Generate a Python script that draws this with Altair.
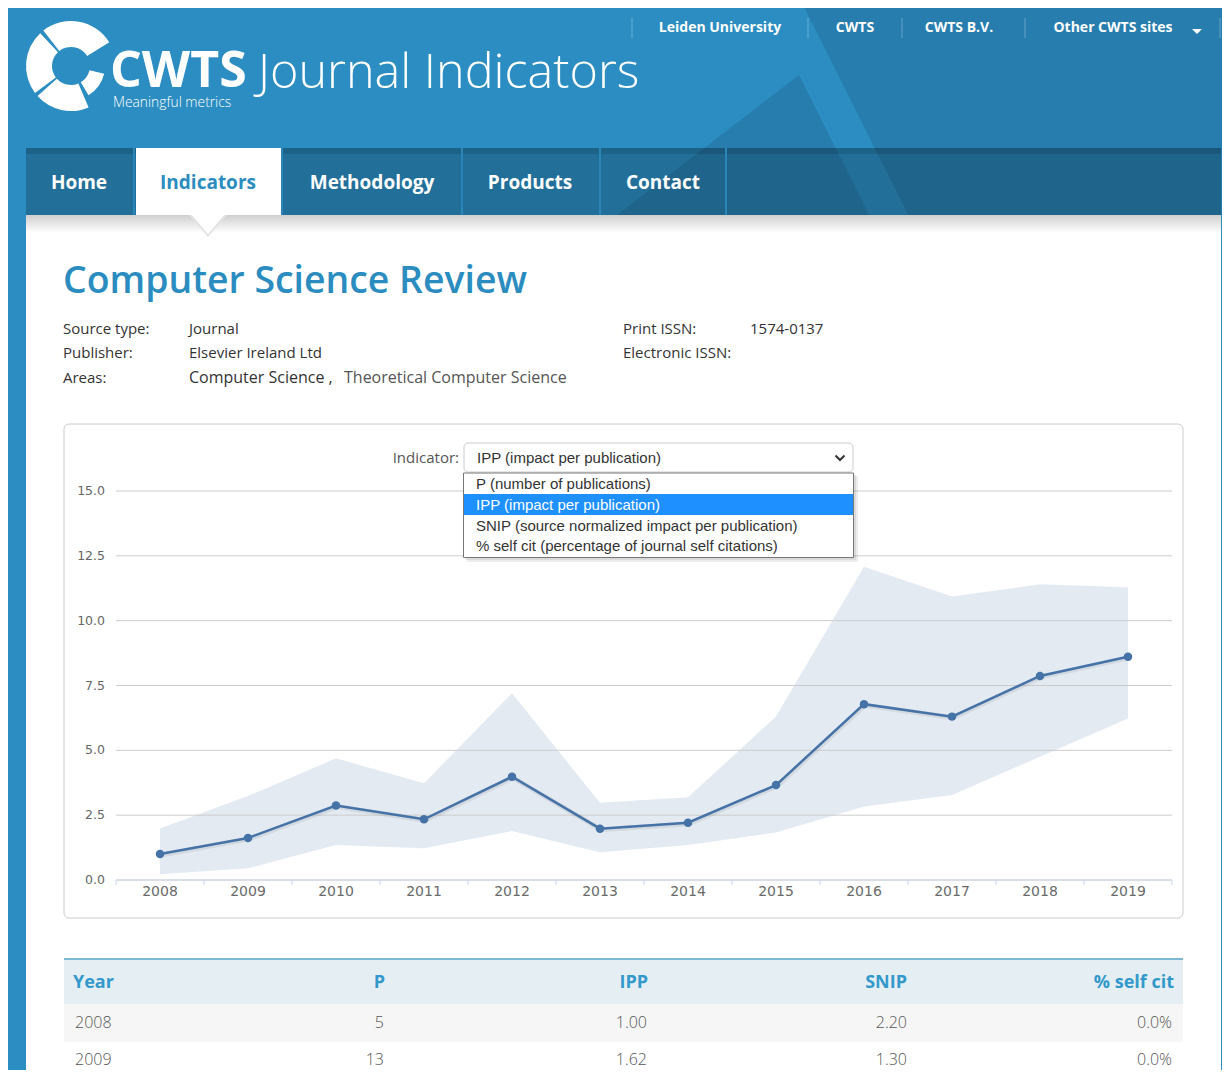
import altair as alt
import pandas as pd

# ------------------------------------------------------------------ data
years = [2008, 2009, 2010, 2011, 2012, 2013, 2014, 2015, 2016, 2017, 2018, 2019]
ipp = [1.00, 1.62, 2.87, 2.34, 3.98, 1.98, 2.21, 3.66, 6.78, 6.30, 7.87, 8.61]
ipp_low = [0.22, 0.45, 1.35, 1.22, 1.89, 1.07, 1.35, 1.83, 2.83, 3.28, 4.75, 6.23]
ipp_high = [1.99, 3.24, 4.69, 3.73, 7.20, 2.98, 3.19, 6.30, 12.08, 10.93, 11.40, 11.29]
y_ticks = [0, 2.5, 5, 7.5, 10, 12.5, 15]

top_links = ["Leiden University", "CWTS", "CWTS B.V.", "Other CWTS sites"]
nav_items = ["Home", "Indicators", "Methodology", "Products", "Contact"]
journal_title = "Computer Science Review"
info_labels = ["Source type:", "Publisher:", "Areas:"]
info_values = ["Journal", "Elsevier Ireland Ltd"]
areas = ["Computer Science ,", "Theoretical Computer Science"]
issn_labels = ["Print ISSN:", "Electronic ISSN:"]
issn_values = ["1574-0137"]
indicator_options = [
    "P (number of publications)",
    "IPP (impact per publication)",
    "SNIP (source normalized impact per publication)",
    "% self cit (percentage of journal self citations)",
]
selected_option = 1
table_columns = ["Year", "P", "IPP", "SNIP", "% self cit"]
table_year = [2008, 2009]
table_p = [5, 13]
table_ipp = [1.00, 1.62]
table_snip = [2.20, 1.30]
table_selfcit = [0.0, 0.0]

# ------------------------------------------------------------------ layout helpers
OX, OY = 8, 8
W, H = 1214, 1062
one = pd.DataFrame({"k": [0]})
layers = []


def X(v):
    return v - OX


def Y(v):
    return v - OY


def rect(x1, y1, x2, y2, **kw):
    layers.append(alt.Chart(one).mark_rect(**kw).encode(
        x=alt.value(X(x1)), x2=alt.value(X(x2)), y=alt.value(Y(y1)), y2=alt.value(Y(y2))))


def vline(x, y1, y2, color, width=1, opacity=1):
    layers.append(alt.Chart(one).mark_rule(color=color, strokeWidth=width, opacity=opacity).encode(
        x=alt.value(X(x)), y=alt.value(Y(y1)), y2=alt.value(Y(y2))))


def text(s, x, y, size=15, color="#333333", weight="normal", align="left",
         font="Open Sans", baseline="middle"):
    layers.append(alt.Chart(one).mark_text(
        text=s, fontSize=size, color=color, fontWeight=weight, align=align,
        baseline=baseline, font=font).encode(x=alt.value(X(x)), y=alt.value(Y(y))))


def poly(points, color, opacity=1):
    path = "M" + "L".join(f"{px - OX},{py - OY}" for px, py in points) + "Z"
    layers.append(alt.Chart(one).mark_point(
        shape=path, size=4, filled=True, fill=color, opacity=opacity, strokeWidth=0).encode(
        x=alt.value(0), y=alt.value(0)))


BLUE = "#2b8dc1"
DARK = "#277dae"
TITLE_BLUE = "#2b8cc0"
LINE_BLUE = "#4572a7"

# ------------------------------------------------------------------ header
rect(5, 7, 1225, 215, color=BLUE)
poly([(804, 7), (1225, 7), (1225, 215), (908, 215)], DARK)
poly([(799, 75), (617, 215), (869, 215)], DARK)

# logo rings
logo_segments = [(5.62, 7.30, 45, 19), (1.80, 2.60, 34, 19), (2.74, 3.98, 45, 19), (4.07, 5.53, 45, 19)]
for t1, t2, r1, r2 in logo_segments:
    layers.append(alt.Chart(one).mark_arc(theta=t1, theta2=t2, radius=r1, radius2=r2, color="white").encode(
        x=alt.value(X(71)), y=alt.value(Y(66))))
text("CWTS", 110, 87, size=50, color="white", weight="bold", baseline="alphabetic")
text("Journal Indicators", 258, 88, size=48.5, color="white", weight=300, baseline="alphabetic")
text("Meaningful metrics", 113, 103, size=13.8, color="white", weight=300)

# top links
link_x = [720, 855, 959, 1113]
for s, lx in zip(top_links, link_x):
    text(s, lx, 28, size=14, color="white", weight="bold", align="center")
for sx in [632, 808, 902, 1025, 1220]:
    vline(sx, 18, 38, "#ffffff", 1, 0.3)
poly([(1192, 29), (1202, 29), (1197, 34)], "white")

# navigation
rect(26, 148, 1221, 215, color="#000000", opacity=0.2)
rect(26, 148, 1221, 154, color="#000000", opacity=0.12)
rect(136, 148, 281, 215, color="white")
for sx in [134, 282, 462, 600, 726]:
    vline(sx, 148, 215, "#2a86b9", 2)
nav_x = [79, 208, 372, 530, 663]
for i, (s, nx) in enumerate(zip(nav_items, nav_x)):
    text(s, nx, 183, size=19, color=TITLE_BLUE if i == 1 else "white", weight="bold", align="center")

# side strips of the page background
rect(5, 215, 26, 1079, color=BLUE)
rect(1221, 215, 1225, 1079, color=BLUE)

# shadow under navigation + pointer
rect(26, 215, 1221, 233, fill=alt.Gradient(
    gradient="linear", x1=0, x2=0, y1=0, y2=1,
    stops=[alt.GradientStop(color="#cfcfcf", offset=0), alt.GradientStop(color="#ffffff", offset=1)]))
poly([(189, 215), (227, 215), (208, 237)], "#e4e4e4")
poly([(192, 215), (224, 215), (208, 234)], "white")

# ------------------------------------------------------------------ journal info
text(journal_title, 63, 293, size=37.4, color=TITLE_BLUE, weight=600, baseline="alphabetic")
for s, yy in zip(info_labels, [329, 353, 378]):
    text(s, 63, yy, size=15, color="#333333")
for s, yy in zip(info_values, [329, 353]):
    text(s, 189, yy, size=15, color="#333333")
text(areas[0], 189, 378, size=16, color="#333333")
text(areas[1], 344, 378, size=16, color="#555555")
for s, yy in zip(issn_labels, [329, 353]):
    text(s, 623, yy, size=15, color="#333333")
text(issn_values[0], 750, 329, size=15, color="#333333")

# ------------------------------------------------------------------ chart box
rect(64, 424, 1183, 918, fillOpacity=0, stroke="#cccccc", strokeWidth=1, cornerRadius=5)

# ------------------------------------------------------------------ chart data, scales and axes
df = pd.DataFrame({"year": years, "ipp": ipp, "low": ipp_low, "high": ipp_high})
ticks_df = pd.DataFrame({"t": y_ticks})
xscale = alt.Scale(type="band", domain=years, range=[X(116), X(1172)], paddingInner=0, paddingOuter=0)
yscale = alt.Scale(domain=[0, 15], range=[Y(880), Y(491)], nice=False, zero=False)

# band of the range
layers.append(alt.Chart(df).mark_area(color=LINE_BLUE, opacity=0.15).encode(
    x=alt.X("year:O", scale=xscale, axis=None, bandPosition=0.5),
    y=alt.Y("low:Q", scale=yscale, axis=None),
    y2="high:Q"))
# y grid lines and labels
layers.append(alt.Chart(ticks_df).mark_rule(color="#cccccc", strokeWidth=1).encode(
    y=alt.Y("t:Q", scale=yscale, axis=None),
    x=alt.value(X(116)), x2=alt.value(X(1172))))
layers.append(alt.Chart(ticks_df).mark_text(
    align="right", baseline="middle", font="DejaVu Sans", fontSize=12.5, color="#666666").encode(
    y=alt.Y("t:Q", scale=yscale, axis=None),
    x=alt.value(X(105)),
    text=alt.Text("t:Q", format=".1f")))
# x axis line, band-edge ticks and labels
layers.append(alt.Chart(one).mark_rule(color="#ccd6eb", strokeWidth=1).encode(
    y=alt.value(Y(880)), x=alt.value(X(116)), x2=alt.value(X(1172))))
layers.append(alt.Chart(df).mark_rule(color="#ccd6eb", strokeWidth=1).encode(
    x=alt.X("year:O", scale=xscale, axis=None, bandPosition=0),
    y=alt.value(Y(880)), y2=alt.value(Y(885))))
layers.append(alt.Chart(df[df.year == years[-1]]).mark_rule(color="#ccd6eb", strokeWidth=1).encode(
    x=alt.X("year:O", scale=xscale, axis=None, bandPosition=1),
    y=alt.value(Y(880)), y2=alt.value(Y(885))))
layers.append(alt.Chart(df).mark_text(
    align="center", baseline="middle", font="DejaVu Sans", fontSize=14, color="#6a6a6a").encode(
    x=alt.X("year:O", scale=xscale, axis=None, bandPosition=0.5),
    y=alt.value(Y(892)),
    text=alt.Text("year:O")))
# IPP line (with a soft shadow) and points
layers.append(alt.Chart(df).mark_line(color="#000000", opacity=0.07, strokeWidth=5, xOffset=1, yOffset=1).encode(
    x=alt.X("year:O", scale=xscale, axis=None, bandPosition=0.5),
    y=alt.Y("ipp:Q", scale=yscale, axis=None)))
layers.append(alt.Chart(df).mark_line(color=LINE_BLUE, strokeWidth=2.5).encode(
    x=alt.X("year:O", scale=xscale, axis=None, bandPosition=0.5),
    y=alt.Y("ipp:Q", scale=yscale, axis=None)))
layers.append(alt.Chart(df).mark_point(filled=True, size=72, color=LINE_BLUE, opacity=1).encode(
    x=alt.X("year:O", scale=xscale, axis=None, bandPosition=0.5),
    y=alt.Y("ipp:Q", scale=yscale, axis=None)))

# ------------------------------------------------------------------ indicator select + open list
text("Indicator:", 459, 458, size=15, color="#555555", align="right")
rect(464, 443, 853, 472, color="white", stroke="#cccccc", strokeWidth=1, cornerRadius=4)
text(indicator_options[selected_option], 477, 458, size=15, color="#333333", font="Liberation Sans")
layers.append(alt.Chart(one).mark_point(shape="M-4.5,-2.5L0,2L4.5,-2.5", size=4, filled=False,
                                        stroke="#333333", strokeWidth=2, opacity=1).encode(
    x=alt.value(X(840)), y=alt.value(Y(458))))
rect(467, 476, 858, 562, color="#000000", opacity=0.07)
rect(465, 474, 856, 560, color="#000000", opacity=0.08)
rect(463.5, 473, 853.5, 557.5, color="white", stroke="#767676", strokeWidth=1)
rect(464, 494, 853, 515, color="#1e90ff")
for i, (s, yy) in enumerate(zip(indicator_options, [483.5, 505, 525.5, 545.5])):
    text(s, 476, yy, size=15, color="white" if i == selected_option else "#333333", font="Liberation Sans")

# ------------------------------------------------------------------ table
rect(64, 958, 1183, 960, color="#7ab8d6")
rect(64, 960, 1183, 1004, color="#e5eff3")
rect(64, 1004, 1183, 1042, color="#f6f6f6")
head_x = [73, 385, 648, 907, 1174]
head_align = ["left", "right", "right", "right", "right"]
for s, hx, al in zip(table_columns, head_x, head_align):
    text(s, hx, 983, size=18, color="#3399cc", weight="bold", align=al)
row_y = [1023, 1060]
for i, ry in enumerate(row_y):
    cells = [str(table_year[i]), str(table_p[i]), f"{table_ipp[i]:.2f}",
             f"{table_snip[i]:.2f}", f"{table_selfcit[i]:.1f}%"]
    for s, cx, al in zip(cells, [75, 384, 647, 907, 1172], head_align):
        text(s, cx, ry, size=16, color="#555555", weight=300, align=al)

chart = alt.layer(*layers).properties(
    width=W, height=H, padding=0, autosize=alt.AutoSizeParams(type="none")
).configure_view(strokeWidth=0)

chart.save("out.html", embed_options={"renderer": "svg", "actions": False})
